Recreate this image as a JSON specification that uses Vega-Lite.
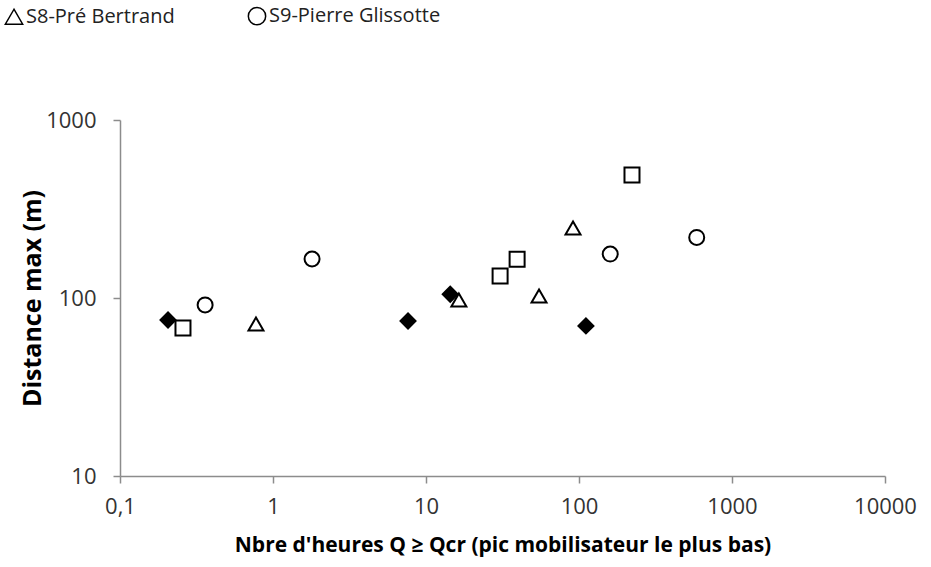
{
  "$schema": "https://vega.github.io/schema/vega-lite/v6.json",
  "width": 765,
  "height": 356,
  "autosize": {"type": "none"},
  "padding": {"left": 120, "top": 120, "right": 46, "bottom": 91},
  "background": "white",
  "config": {
    "view": {"stroke": null},
    "font": "Open Sans"
  },
  "data": {
    "values": [
      {"serie": "S6", "heures": 0.206, "distance": 75.2},
      {"serie": "S6", "heures": 7.63, "distance": 74.3},
      {"serie": "S6", "heures": 14.4, "distance": 105},
      {"serie": "S6", "heures": 111, "distance": 69.7},
      {"serie": "S7", "heures": 0.258, "distance": 67.8},
      {"serie": "S7", "heures": 30.5, "distance": 133},
      {"serie": "S7", "heures": 39.4, "distance": 165},
      {"serie": "S7", "heures": 222, "distance": 491},
      {"serie": "S8-Pré Bertrand", "heures": 0.774, "distance": 71.5},
      {"serie": "S8-Pré Bertrand", "heures": 16.4, "distance": 97.5},
      {"serie": "S8-Pré Bertrand", "heures": 54.8, "distance": 102.6},
      {"serie": "S8-Pré Bertrand", "heures": 91.4, "distance": 247},
      {"serie": "S9-Pierre Glissotte", "heures": 0.36, "distance": 91.4},
      {"serie": "S9-Pierre Glissotte", "heures": 1.8, "distance": 165.6},
      {"serie": "S9-Pierre Glissotte", "heures": 160, "distance": 176.6},
      {"serie": "S9-Pierre Glissotte", "heures": 588, "distance": 219}
    ]
  },
  "mark": {"type": "point", "filled": true, "stroke": "black", "strokeWidth": 2, "opacity": 1, "size": 225},
  "encoding": {
    "x": {
      "field": "heures",
      "type": "quantitative",
      "scale": {"type": "log", "domain": [0.1, 10000], "nice": false},
      "axis": {
        "values": [0.1, 1, 10, 100, 1000, 10000],
        "labelExpr": "replace(format(datum.value, '~g'), '.', ',')",
        "title": "Nbre d'heures Q ≥ Qcr (pic mobilisateur le plus bas)",
        "grid": false,
        "domainColor": "#8c8c8c",
        "domainWidth": 1.5,
        "tickColor": "#8c8c8c",
        "tickWidth": 1.5,
        "tickSize": 7,
        "labelPadding": 13,
        "labelFontSize": 22,
        "labelColor": "#333333",
        "labelFlush": false,
        "titleFontSize": 21,
        "titleFontWeight": "bold",
        "titleColor": "black",
        "titlePadding": 17
      }
    },
    "y": {
      "field": "distance",
      "type": "quantitative",
      "scale": {"type": "log", "domain": [10, 1000], "nice": false},
      "axis": {
        "values": [10, 100, 1000],
        "format": "d",
        "title": "Distance max (m)",
        "grid": false,
        "domainColor": "#8c8c8c",
        "domainWidth": 1.5,
        "tickColor": "#8c8c8c",
        "tickWidth": 1.5,
        "tickSize": 7,
        "labelPadding": 17,
        "labelFontSize": 22,
        "labelColor": "#333333",
        "labelFlush": false,
        "titleFontSize": 25,
        "titleFontWeight": "bold",
        "titleColor": "black",
        "titlePadding": 0
      }
    },
    "shape": {
      "field": "serie",
      "type": "nominal",
      "scale": {
        "domain": ["S6", "S7", "S8-Pré Bertrand", "S9-Pierre Glissotte"],
        "range": ["diamond", "square", "triangle-up", "circle"]
      },
      "legend": {
        "values": ["S8-Pré Bertrand", "S9-Pierre Glissotte"],
        "title": null,
        "orient": "none",
        "direction": "horizontal",
        "legendX": -116,
        "legendY": -114,
        "labelFontSize": 20,
        "labelLimit": 400,
        "labelColor": "#222222",
        "symbolSize": 300,
        "labelOffset": 2,
        "columnPadding": 70,
        "encode": {
          "symbols": {
            "update": {
              "shape": {"scale": "shape", "field": "value"},
              "size": {"value": 300},
              "fill": {"value": "white"},
              "stroke": {"value": "black"},
              "strokeWidth": {"value": 2},
              "opacity": {"value": 1},
              "fillOpacity": {"value": 1},
              "strokeOpacity": {"value": 1}
            }
          }
        }
      }
    },
    "fill": {
      "condition": {"test": "datum.serie === 'S6'", "value": "black"},
      "value": "white"
    }
  }
}
